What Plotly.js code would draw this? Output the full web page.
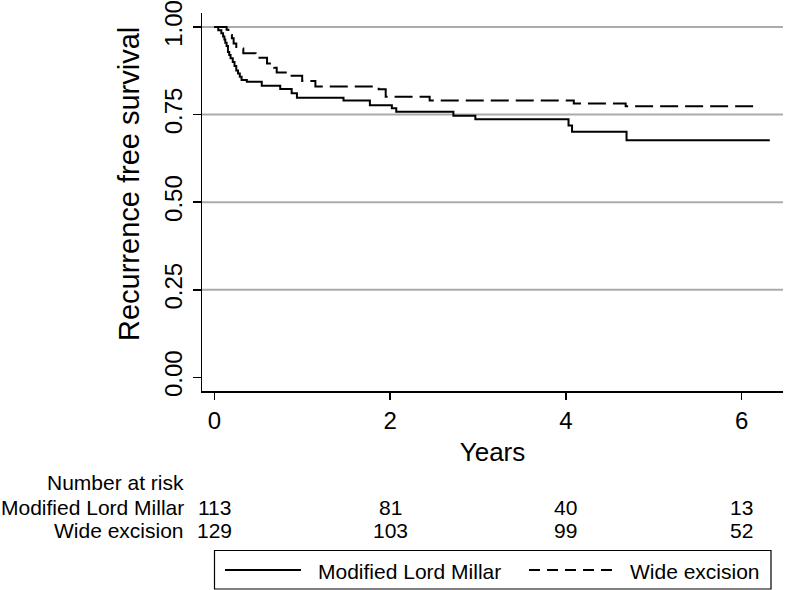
<!DOCTYPE html>
<html>
<head>
<meta charset="utf-8">
<script src="https://cdn.plot.ly/plotly-3.0.1.min.js"></script>
<style>
  html, body { margin: 0; padding: 0; background: #fff; }
  #chart { width: 786px; height: 590px; }
</style>
</head>
<body>
<div id="chart"></div>
<script>
// ---- data ----
const mlmName = "Modified Lord Millar";
const wideName = "Wide excision";

const mlmTime = [0, 0.045, 0.08, 0.10, 0.115, 0.125, 0.14, 0.155, 0.17, 0.185, 0.21, 0.23, 0.25, 0.27, 0.29, 0.31, 0.37, 0.54, 0.75, 0.88, 0.94, 1.47, 1.77, 2.02, 2.07, 2.72, 2.97, 4.03, 4.07, 4.69, 6.32];
const mlmSurv = [1.000, 0.991, 0.982, 0.973, 0.964, 0.955, 0.946, 0.929, 0.920, 0.911, 0.900, 0.889, 0.876, 0.867, 0.858, 0.849, 0.844, 0.832, 0.823, 0.811, 0.798, 0.790, 0.777, 0.768, 0.758, 0.747, 0.737, 0.719, 0.701, 0.677, 0.677];

const wideTime = [0, 0.14, 0.16, 0.18, 0.20, 0.22, 0.25, 0.33, 0.47, 0.60, 0.68, 0.71, 0.86, 1.00, 1.15, 1.87, 1.95, 2.45, 4.09, 4.68, 6.17];
const wideSurv = [1.000, 0.992, 0.984, 0.977, 0.968, 0.953, 0.939, 0.925, 0.912, 0.896, 0.884, 0.870, 0.861, 0.846, 0.830, 0.822, 0.801, 0.790, 0.782, 0.774, 0.774];

const xTicks = [0, 2, 4, 6];
const yTicks = [0, 0.25, 0.5, 0.75, 1];
const yTickText = ["0.00", "0.25", "0.50", "0.75", "1.00"];
const gridVals = [0.25, 0.5, 0.75, 1];

const riskTimes = [0, 2, 4, 6];
const mlmRisk = [113, 81, 40, 13];
const wideRisk = [129, 103, 99, 52];
const riskTitle = "Number at risk";
const xTitle = "Years";
const yTitle = "Recurrence free survival";

// ---- chart ----
const FONT = "Liberation Sans, Arial, sans-serif";
const W = 786, H = 590;
const M = { l: 202, r: 3, t: 13, b: 199 };
const PW = W - M.l - M.r, PH = H - M.t - M.b;
const px2x = (px) => (px - M.l) / PW;          // pixel -> paper x
const py2y = (py) => (M.t + PH - py) / PH;     // pixel -> paper y

const traces = [
  { x: mlmTime, y: mlmSurv, name: mlmName, type: "scatter", mode: "lines",
    line: { shape: "hv", color: "#000", width: 2 } },
  { x: wideTime, y: wideSurv, name: wideName, type: "scatter", mode: "lines",
    line: { shape: "hv", color: "#000", width: 2, dash: "18px,7px" } }
];

const shapes = gridVals.map(v => ({
  type: "line", xref: "paper", x0: 0, x1: 1, yref: "y", y0: v, y1: v,
  line: { color: "#ababab", width: 2 }, layer: "below"
}));
// legend box + keys
shapes.push({ type: "rect", xref: "paper", yref: "paper",
  x0: px2x(214.5), x1: px2x(771), y0: py2y(550.5), y1: py2y(589),
  line: { color: "#000", width: 1.2 }, fillcolor: "rgba(0,0,0,0)" });
shapes.push({ type: "line", xref: "paper", yref: "paper",
  x0: px2x(225), x1: px2x(301), y0: py2y(570), y1: py2y(570),
  line: { color: "#000", width: 2 } });
shapes.push({ type: "line", xref: "paper", yref: "paper",
  x0: px2x(529), x1: px2x(617), y0: py2y(570), y1: py2y(570),
  line: { color: "#000", width: 2, dash: "11px,7px" } });

const annFont = { family: FONT, size: 21, color: "#000" };
const annotations = [];
const rowY = [py2y(483), py2y(507.5), py2y(530.5)];
[riskTitle, mlmName, wideName].forEach((t, i) => annotations.push({
  text: t, xref: "paper", x: px2x(186), xanchor: "right",
  yref: "paper", y: rowY[i], yanchor: "middle", showarrow: false, font: annFont
}));
riskTimes.forEach((t, i) => {
  annotations.push({ text: String(mlmRisk[i]), xref: "x", x: t, xanchor: "center",
    yref: "paper", y: rowY[1], yanchor: "middle", showarrow: false, font: annFont });
  annotations.push({ text: String(wideRisk[i]), xref: "x", x: t, xanchor: "center",
    yref: "paper", y: rowY[2], yanchor: "middle", showarrow: false, font: annFont });
});
annotations.push({ text: mlmName, xref: "paper", x: px2x(316), xanchor: "left",
  yref: "paper", y: py2y(571), yanchor: "middle", showarrow: false, font: annFont });
annotations.push({ text: wideName, xref: "paper", x: px2x(628), xanchor: "left",
  yref: "paper", y: py2y(571), yanchor: "middle", showarrow: false, font: annFont });
// y axis title (Stata places it off-centre relative to the plot region)
annotations.push({ text: yTitle, textangle: -90, xref: "paper", x: px2x(129), xanchor: "center",
  yref: "paper", y: py2y(184), yanchor: "middle", showarrow: false,
  font: { family: FONT, size: 29, color: "#000" } });

const layout = {
  width: W, height: H,
  margin: { l: M.l, r: M.r, t: M.t, b: M.b, pad: 0 },
  paper_bgcolor: "#fff", plot_bgcolor: "#fff",
  showlegend: false,
  font: { family: FONT, color: "#000" },
  xaxis: {
    range: [-0.14, 6.47], tickvals: xTicks, ticks: "outside", ticklen: 7,
    tickwidth: 1.5, tickcolor: "#000", showline: true, linecolor: "#000",
    linewidth: 1.5, showgrid: false, zeroline: false, ticklabelstandoff: 1,
    tickfont: { family: FONT, size: 24, color: "#000" },
    title: { text: xTitle, font: { family: FONT, size: 26, color: "#000" }, standoff: 9 }
  },
  yaxis: {
    range: [-0.039, 1.04], tickvals: yTicks, ticktext: yTickText, tickangle: -90,
    ticks: "outside", ticklen: 8, tickwidth: 1.5, tickcolor: "#000",
    showline: true, linecolor: "#000", linewidth: 1.5, showgrid: false, zeroline: false,
    ticklabelstandoff: 1,
    tickfont: { family: FONT, size: 24, color: "#000" }
  },
  shapes: shapes,
  annotations: annotations
};

Plotly.newPlot("chart", traces, layout, { staticPlot: true, displayModeBar: false });
</script>
</body>
</html>
